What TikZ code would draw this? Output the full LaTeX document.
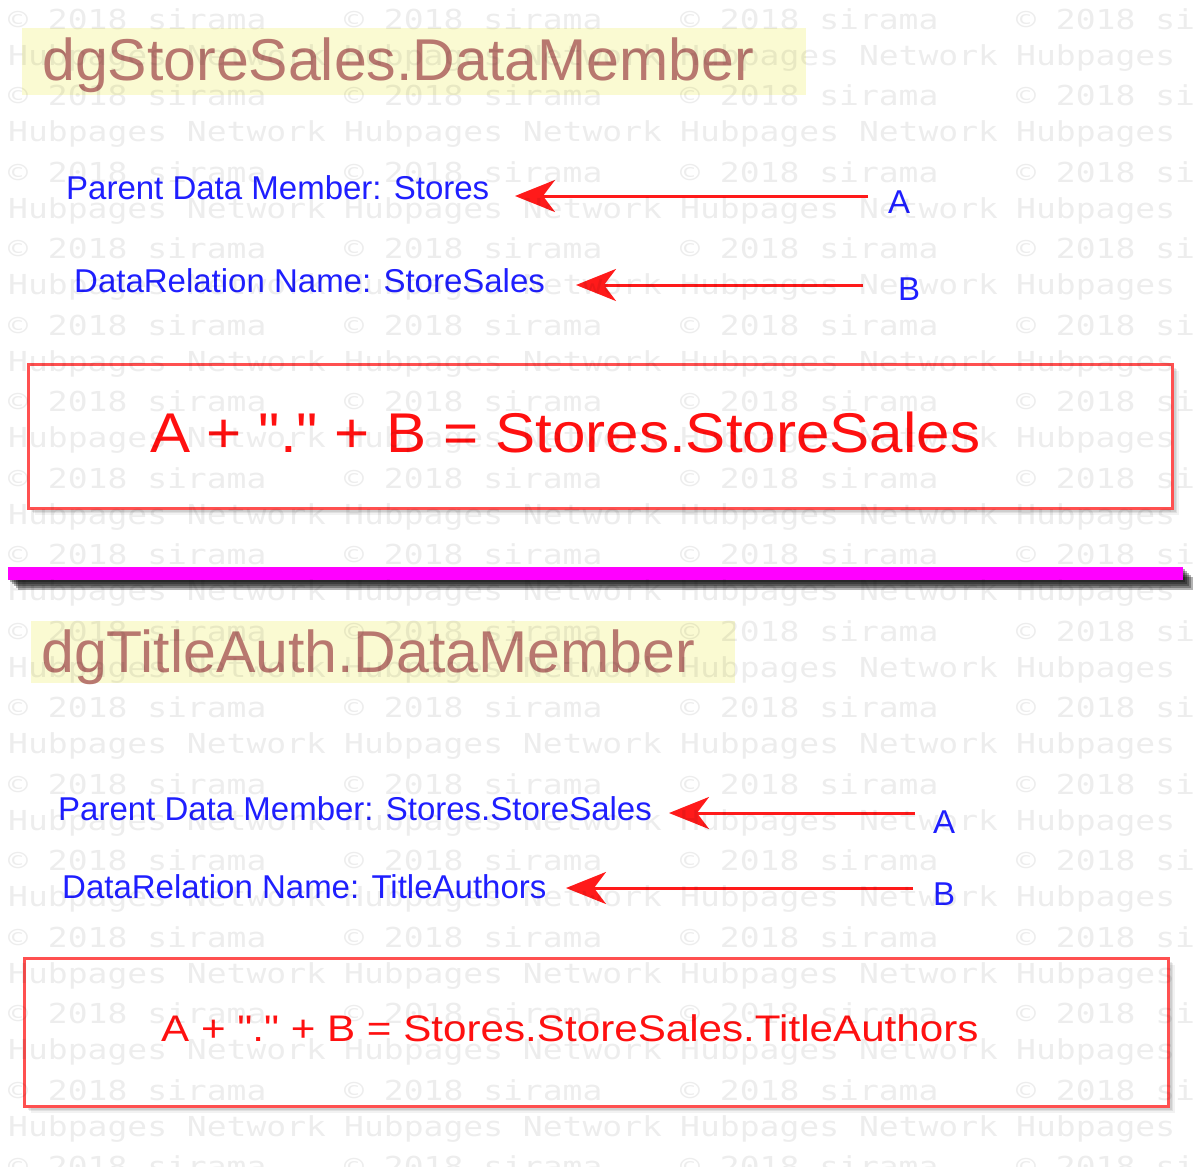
\documentclass[tikz,border=0pt]{standalone}
\usepackage{fontspec}
\setmainfont{Liberation Sans}
\newfontfamily\formfont{Liberation Sans}
\newfontfamily\wmfont{DejaVu Sans Mono}
\usetikzlibrary{arrows.meta}
\definecolor{titlecol}{HTML}{B8786F}
\definecolor{hl}{HTML}{FAFAD2}
\definecolor{bluetxt}{HTML}{1F1FFF}
\definecolor{redtxt}{HTML}{FF1010}
\definecolor{boxred}{HTML}{FF5050}
\definecolor{arrred}{HTML}{FF1A1A}
\definecolor{mag}{HTML}{FF00FF}
\begin{document}
\begin{tikzpicture}[x=1pt,y=-1pt,
  titletxt/.style={anchor=base west, inner sep=0, text=titlecol, font=\fontsize{59}{59}\selectfont},
  lbl/.style={anchor=base west, inner sep=0, text=bluetxt, font=\fontsize{33}{33}\selectfont},
  formula/.style={anchor=base west, inner sep=0, text=redtxt, font=\formfont},
  redarrow/.style={draw=arrred, line width=3pt, -{Stealth[length=40pt,width=32pt,inset=12pt]}},
  framebox/.style={draw=boxred, line width=3pt, fill=white, inner sep=0, anchor=north west},
  highlight/.style={fill=hl, inner sep=0, anchor=north west},
  wm/.style={anchor=base west, inner sep=0, text=black, text opacity=0.07, font=\wmfont\fontsize{27.5}{27.5}\selectfont}
]
\useasboundingbox (0,0) rectangle (1200,1167);
\fill[white] (0,0) rectangle (1200,1167);

% ---------- top section ----------
\node[highlight, minimum width=784, minimum height=67] (hl1) at (22,28) {};
\node[titletxt] (title1) at (42,80) {dgStoreSales.DataMember};

\node[lbl] (pdm1) at (66,199) {Parent Data Member: Stores};
\node[lbl] (drn1) at (74,292) {DataRelation Name: StoreSales};
\node[lbl] (A1) at (888,213) {A};
\node[lbl] (B1) at (898,300) {B};
\coordinate (a1s) at (868,196);
\coordinate (a1e) at (515,196);
\coordinate (b1s) at (863,285);
\coordinate (b1e) at (576,285);
\draw[redarrow] (a1s) -- (a1e);
\draw[redarrow] (b1s) -- (b1e);

\foreach \s/\o in {1.5/0.12,3/0.1,4.5/0.08,6/0.07,7.5/0.05}
  \fill[black,opacity=\o] ({27+\s},{363+\s}) rectangle ({1171+\s},{507+\s});
\node[framebox, minimum width=1144, minimum height=144] (box1) at (27,363) {};
\node[formula] (f1) at (150,452) {\scalebox{1.074}[1]{\fontsize{56}{56}\selectfont A + "." + B = Stores.StoreSales}};

% ---------- separator ----------
\foreach \s in {2,4,6,8,10}
  \fill[black,opacity=0.3] ({8+\s},{567+\s}) rectangle ({1183+\s},{580+\s});
\node[fill=mag, inner sep=0, anchor=north west, minimum width=1175, minimum height=13] (sep) at (8,567) {};

% ---------- bottom section ----------
\node[highlight, minimum width=704, minimum height=62] (hl2) at (31,621) {};
\node[titletxt] (title2) at (41,672) {dgTitleAuth.DataMember};

\node[lbl] (pdm2) at (58,820) {Parent Data Member: Stores.StoreSales};
\node[lbl] (drn2) at (62,898) {DataRelation Name: TitleAuthors};
\node[lbl] (A2) at (933,833) {A};
\node[lbl] (B2) at (933,905) {B};
\coordinate (a2s) at (915,813);
\coordinate (a2e) at (669,813);
\coordinate (b2s) at (913,888);
\coordinate (b2e) at (566,888);
\draw[redarrow] (a2s) -- (a2e);
\draw[redarrow] (b2s) -- (b2e);

\foreach \s/\o in {1.5/0.12,3/0.1,4.5/0.08,6/0.07,7.5/0.05}
  \fill[black,opacity=\o] ({23+\s},{957+\s}) rectangle ({1167+\s},{1105+\s});
\node[framebox, minimum width=1144, minimum height=148] (box2) at (23,957) {};
\node[formula] (f2) at (161,1041) {\scalebox{1.14}[1]{\fontsize{37}{37}\selectfont A + "." + B = Stores.StoreSales.TitleAuthors}};

% ---------- watermark ----------
\begin{scope}
\clip (0,0) rectangle (1200,1167);
\foreach \k in {0,...,15}
  \foreach \i in {0,...,3}
    \node[wm] (wmc-\k-\i) at ({8+336*\i},{29+76.5*\k}) {\scalebox{1.2}[1]{© 2018 sirama}};
\foreach \k in {0,...,14}{
  \foreach \i in {0,...,2}
    \node[wm] (wmh-\k-\i) at ({8+336*\i},{65+76.5*\k}) {\scalebox{1.2}[1]{Hubpages Network}};
  \node[wm] (wmh-\k-3) at (1016,{65+76.5*\k}) {\scalebox{1.2}[1]{Hubpages}};
}
\end{scope}
\end{tikzpicture}
\end{document}
